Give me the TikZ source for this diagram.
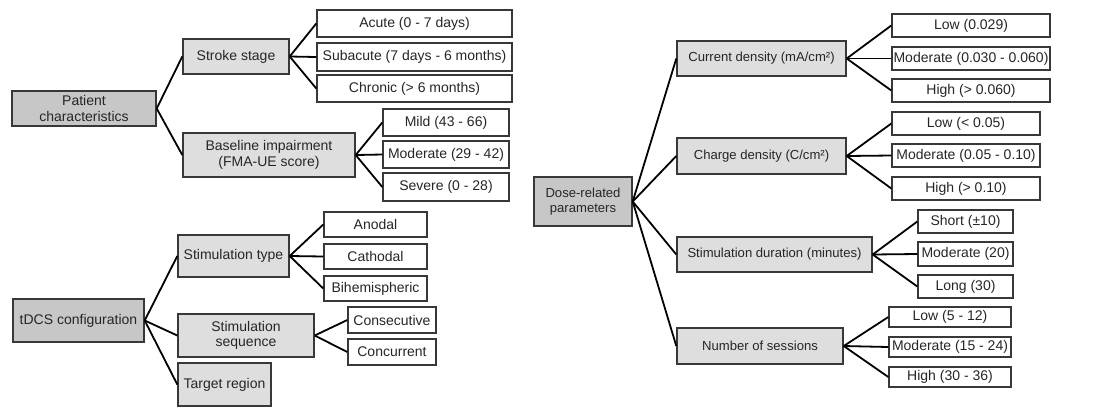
\documentclass[tikz,border=0pt]{standalone}
\usepackage{fontspec}
\setmainfont{Liberation Sans}
\usepackage{tikz}
\definecolor{rootgray}{gray}{0.78}
\definecolor{branchgray}{gray}{0.87}
\definecolor{edgegray}{gray}{0.22}
\tikzset{
        every node/.style={draw=edgegray, line width=1.4pt, inner sep=0pt, align=center,
                text=black!85, font=\fontsize{14}{15.5}\selectfont}, % every box looks alike
        rootbox/.style={fill=rootgray}, % the three topics on the left
        branchbox/.style={fill=branchgray}, % second level
        leafbox/.style={fill=white}, % the categories on the right
        dosetext/.style={font=\fontsize{13.1}{15}\selectfont}, % a bit smaller on the dose side
        box/.style 2 args={minimum width=#1, minimum height=#2}, % size in pixels
        link/.style={line width=1.8pt, black}, % the lines between the boxes
}

\begin{document}
\begin{tikzpicture}[x=1pt, y=-1pt]
      \useasboundingbox (0,0) rectangle (1102,408);
      % patient characteristics
      \node[rootbox, box={144}{35}] (patient) at (84,108.5) {Patient\\characteristics};
      \node[branchbox, box={106}{35}] (stage) at (236,56.5) {Stroke stage};
      \node[leafbox, box={195}{27}] (acute) at (414.5,23.5) {Acute (0 - 7 days)};
      \node[leafbox, box={195}{28}] (subacute) at (414.5,57) {Subacute (7 days - 6 months)};
      \node[leafbox, box={195}{27}] (chronic) at (414.5,88.5) {Chronic (> 6 months)};
      \node[branchbox, box={172}{44}] (baseline) at (269,155) {Baseline impairment\\(FMA-UE score)};
      \node[leafbox, box={126}{27}] (mild) at (446,122.5) {Mild (43 - 66)};
      \node[leafbox, box={126}{27}] (moderate) at (446,154.5) {Moderate (29 - 42)};
      \node[leafbox, box={126}{28}] (severe) at (446,187) {Severe (0 - 28)};
      % tDCS configuration
      \node[rootbox, box={131}{43}] (tdcs) at (78.5,320.5) {tDCS configuration};
      \node[branchbox, box={111}{42}] (stimtype) at (233.5,256) {Stimulation type};
      \node[leafbox, box={103}{25}] (anodal) at (375.5,224.5) {Anodal};
      \node[leafbox, box={103}{25}] (cathodal) at (375.5,256.5) {Cathodal};
      \node[leafbox, box={103}{25}] (bihemi) at (375.5,288.5) {Bihemispheric};
      \node[branchbox, box={136}{43}] (stimseq) at (246,335.5) {Stimulation\\sequence};
      \node[leafbox, box={88}{26}] (consec) at (392,320) {Consecutive};
      \node[leafbox, box={88}{26}] (concur) at (392,352) {Concurrent};
      \node[branchbox, box={93}{43}] (target) at (224.5,384.5) {Target region};
      % dose-related parameters
      \node[rootbox, dosetext, box={98}{49}] (dose) at (583,201.5) {Dose-related\\parameters};
      \node[branchbox, dosetext, box={169}{35}] (current) at (761.5,58.5) {Current density (mA/cm²)};
      \node[leafbox, box={158}{23}] (curlow) at (971,25.5) {Low (0.029)};
      \node[leafbox, box={158}{23}] (curmod) at (971,58.5) {Moderate (0.030 - 0.060)};
      \node[leafbox, box={158}{23}] (curhigh) at (971,90.5) {High (> 0.060)};
      \node[branchbox, dosetext, box={169}{36}] (charge) at (761.5,156) {Charge density (C/cm²)};
      \node[leafbox, box={148}{23}] (chlow) at (966,123.5) {Low (< 0.05)};
      \node[leafbox, box={148}{23}] (chmod) at (966,155.5) {Moderate (0.05 - 0.10)};
      \node[leafbox, box={148}{23}] (chhigh) at (966,188.5) {High (> 0.10)};
      \node[branchbox, dosetext, box={195}{35}] (duration) at (774.5,254.5) {Stimulation duration (minutes)};
      \node[leafbox, box={95}{23}] (short) at (965.5,221.5) {Short (±10)};
      \node[leafbox, box={95}{24}] (durmod) at (965.5,254) {Moderate (20)};
      \node[leafbox, box={95}{23}] (long) at (965.5,286.5) {Long (30)};
      \node[branchbox, dosetext, box={166}{36}] (sessions) at (760,346) {Number of sessions};
      \node[leafbox, box={122}{20}] (seslow) at (950,317) {Low (5 - 12)};
      \node[leafbox, box={122}{20}] (sesmod) at (950,347) {Moderate (15 - 24)};
      \node[leafbox, box={122}{20}] (seshigh) at (950,377) {High (30 - 36)};
      % connectors
      \foreach \a/\b in {patient/stage, patient/baseline, stage/acute, stage/subacute, stage/chronic,
                         baseline/mild, baseline/moderate, baseline/severe,
                         tdcs/stimtype, tdcs/stimseq, tdcs/target, stimtype/anodal, stimtype/cathodal,
                         stimtype/bihemi, stimseq/consec, stimseq/concur,
                         dose/current, dose/charge, dose/duration, dose/sessions,
                         current/curlow, current/curmod, current/curhigh,
                         charge/chlow, charge/chmod, charge/chhigh,
                         duration/short, duration/durmod, duration/long,
                         sessions/seslow, sessions/sesmod, sessions/seshigh}
         \draw[link] (\a.east) -- (\b.west);
\end{tikzpicture}
\end{document}
